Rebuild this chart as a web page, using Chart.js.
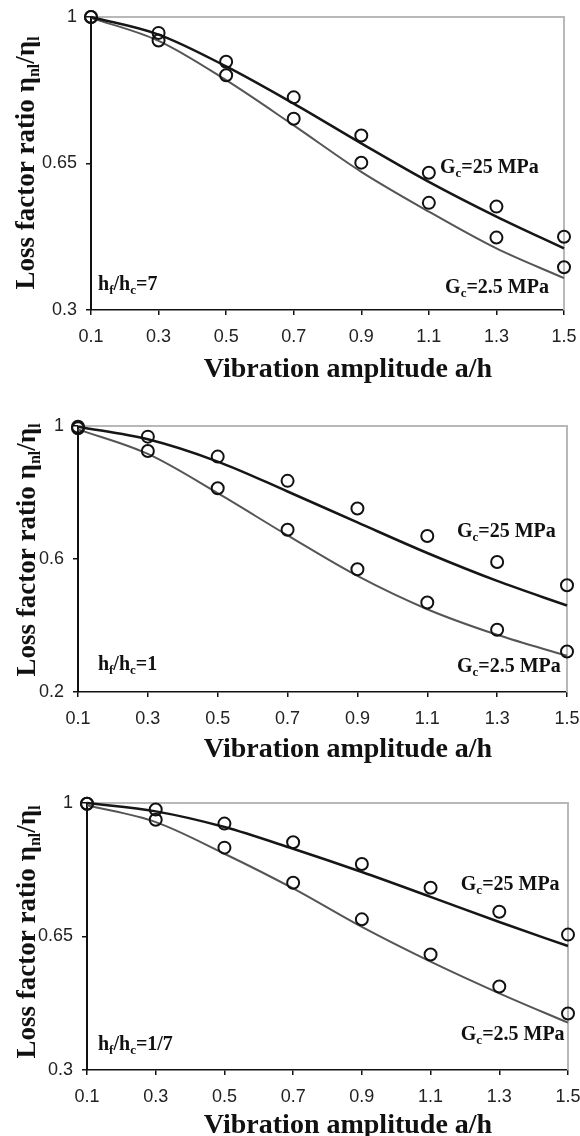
<!DOCTYPE html>
<html>
<head>
<meta charset="utf-8">
<script src="https://cdn.jsdelivr.net/npm/chart.js@4.4.1/dist/chart.umd.min.js"></script>
<style>
  html, body { margin: 0; padding: 0; background: #fff; overflow: hidden; }
  body { width: 580px; height: 1136px; position: relative; }
  canvas { position: absolute; left: 0; }
</style>
</head>
<body>
<canvas id="p1" width="580" height="388" style="top:0"></canvas>
<canvas id="p2" width="580" height="388" style="top:380px"></canvas>
<canvas id="p3" width="580" height="384" style="top:760px"></canvas>
<script>
// vibration amplitude a/h, shared by all panels
var amplitude = [0.1, 0.3, 0.5, 0.7, 0.9, 1.1, 1.3, 1.5];
var xTicks = [0.1, 0.3, 0.5, 0.7, 0.9, 1.1, 1.3, 1.5];

// hf/hc = 7
var hf7Test25  = [1.0, 0.962, 0.893, 0.808, 0.717, 0.628, 0.547, 0.475];
var hf7Test2_5 = [1.0, 0.944, 0.861, 0.757, 0.652, 0.556, 0.473, 0.402];
var hf7Fit25   = [1.0, 0.958, 0.882, 0.793, 0.698, 0.606, 0.523, 0.447];
var hf7Fit2_5  = [0.998, 0.943, 0.849, 0.741, 0.630, 0.535, 0.447, 0.376];
var hf7YTicks  = [0.3, 0.65, 1];

// hf/hc = 1
var hf1Test25  = [0.998, 0.968, 0.908, 0.835, 0.752, 0.669, 0.591, 0.521];
var hf1Test2_5 = [0.993, 0.925, 0.813, 0.688, 0.569, 0.469, 0.387, 0.322];
var hf1Fit25   = [0.998, 0.960, 0.893, 0.803, 0.710, 0.618, 0.534, 0.460];
var hf1Fit2_5  = [0.990, 0.916, 0.798, 0.671, 0.549, 0.449, 0.372, 0.309];
var hf1YTicks  = [0.2, 0.6, 1];

// hf/hc = 1/7
var hf17Test25  = [0.998, 0.983, 0.946, 0.897, 0.840, 0.778, 0.715, 0.655];
var hf17Test2_5 = [0.998, 0.956, 0.883, 0.791, 0.695, 0.603, 0.519, 0.448];
var hf17Fit25   = [1.0, 0.978, 0.937, 0.880, 0.819, 0.754, 0.688, 0.625];
var hf17Fit2_5  = [0.994, 0.950, 0.867, 0.776, 0.675, 0.584, 0.501, 0.424];
var hf17YTicks  = [0.3, 0.65, 1];

var X_TITLE = 'Vibration amplitude a/h';
var SERIF = '"Liberation Serif", "Times New Roman", serif';
var SANS = '"Liberation Sans", Arial, sans-serif';

function pairs(xs, ys) {
  return xs.map(function (x, i) { return { x: x, y: ys[i] }; });
}

// draws text runs, [text, isSubscript], starting at x on baseline y
function richText(ctx, parts, x, y, size, subSize, drop, centered) {
  var main = 'bold ' + size + 'px ' + SERIF, sub = 'bold ' + subSize + 'px ' + SERIF;
  var w = 0;
  parts.forEach(function (p) { ctx.font = p[1] ? sub : main; w += ctx.measureText(p[0]).width; });
  var cx = centered ? x - w / 2 : x;
  ctx.textBaseline = 'alphabetic';
  ctx.textAlign = 'left';
  parts.forEach(function (p) {
    ctx.font = p[1] ? sub : main;
    ctx.fillText(p[0], cx, p[1] ? y + drop : y);
    cx += ctx.measureText(p[0]).width;
  });
}

var panelText = {
  id: 'panelText',
  beforeDatasetsDraw: function (chart) {
    // light frame on the top and right sides of the plot
    var ctx = chart.ctx, a = chart.chartArea;
    ctx.save();
    ctx.strokeStyle = '#b8b8b8';
    ctx.lineWidth = 2;
    ctx.beginPath();
    ctx.moveTo(a.left, a.top);
    ctx.lineTo(a.right, a.top);
    ctx.lineTo(a.right, a.bottom);
    ctx.stroke();
    ctx.restore();
  },
  afterDraw: function (chart, args, opts) {
    var ctx = chart.ctx, xs = chart.scales.x, ys = chart.scales.y;
    ctx.save();
    ctx.fillStyle = '#111';
    (opts.notes || []).forEach(function (n) {
      richText(ctx, n.parts, xs.getPixelForValue(n.x), ys.getPixelForValue(n.y), 20, 13, 4, false);
    });
    // x title sits a little right of the axis centre in the original
    ctx.font = 'bold 28px ' + SERIF;
    ctx.textAlign = 'center';
    ctx.textBaseline = 'middle';
    ctx.fillText(X_TITLE, opts.xTitleX, xs.bottom - 18);
    ctx.translate(opts.titleX, opts.titleY);
    ctx.rotate(-Math.PI / 2);
    richText(ctx, [['Loss factor ratio \u03b7', 0], ['nl', 1], ['/\u03b7', 0], ['l', 1]], 0, 0, 27, 16, 5, true);
    ctx.restore();
  }
};

function gcNotes(x25, y25, x2, y2, xh, yh, ratio) {
  return [
    { x: x25, y: y25, parts: [['G', 0], ['c', 1], ['=25 MPa', 0]] },
    { x: x2, y: y2, parts: [['G', 0], ['c', 1], ['=2.5 MPa', 0]] },
    { x: xh, y: yh, parts: [['h', 0], ['f', 1], ['/h', 0], ['c', 1], ['=' + ratio, 0]] }
  ];
}

function makePanel(id, d) {
  var axisTick = { display: true, drawOnChartArea: false, drawTicks: true, color: '#111', lineWidth: 1.5, tickLength: 5 };
  new Chart(document.getElementById(id), {
    type: 'scatter',
    data: {
      datasets: [
        { data: pairs(amplitude, d.test25), showLine: false, pointStyle: 'circle', pointRadius: 6,
          pointBorderWidth: 2, pointBorderColor: '#111', pointBackgroundColor: 'rgba(0,0,0,0)', clip: false },
        { data: pairs(amplitude, d.test2_5), showLine: false, pointStyle: 'circle', pointRadius: 6,
          pointBorderWidth: 2, pointBorderColor: '#111', pointBackgroundColor: 'rgba(0,0,0,0)', clip: false },
        { data: pairs(amplitude, d.fit25), showLine: true, borderColor: '#161616', borderWidth: 2.5,
          pointRadius: 0, cubicInterpolationMode: 'monotone', clip: false },
        { data: pairs(amplitude, d.fit2_5), showLine: true, borderColor: '#555', borderWidth: 2,
          pointRadius: 0, cubicInterpolationMode: 'monotone', clip: false }
      ]
    },
    options: {
      responsive: false,
      animation: false,
      events: [],
      layout: { padding: { top: d.top, right: d.right, bottom: 0, left: 0 } },
      plugins: {
        legend: { display: false },
        tooltip: { enabled: false },
        panelText: { notes: d.notes, titleX: d.titleX, titleY: d.titleY, xTitleX: 348 }
      },
      scales: {
        x: {
          type: 'linear', min: 0.1, max: 1.5,
          afterBuildTicks: function (s) { s.ticks = xTicks.map(function (v) { return { value: v }; }); },
          afterFit: function (s) { s.height = d.xAxisH; s.paddingLeft = 0; s.paddingRight = 0; },
          border: { color: '#111', width: 1.5 },
          grid: axisTick,
          ticks: { color: '#222', font: { family: SANS, size: 18 }, padding: 11, maxRotation: 0,
                   callback: function (v) { return v.toFixed(1); } }
        },
        y: {
          type: 'linear', min: d.yTicks[0], max: d.yTicks[d.yTicks.length - 1],
          afterBuildTicks: function (s) { s.ticks = d.yTicks.map(function (v) { return { value: v }; }); },
          afterFit: function (s) { s.width = d.left; s.paddingTop = 0; s.paddingBottom = 0; },
          border: { color: '#111', width: 2 },
          grid: axisTick,
          ticks: { color: '#222', font: { family: SANS, size: 18 }, padding: 9,
                   callback: function (v) { return String(v); } }
        }
      }
    },
    plugins: [panelText]
  });
}

makePanel('p1', {
  test25: hf7Test25, test2_5: hf7Test2_5, fit25: hf7Fit25, fit2_5: hf7Fit2_5, yTicks: hf7YTicks,
  top: 17, right: 16, left: 91, xAxisH: 78, titleX: 34, titleY: 163,
  notes: gcNotes(1.133, 0.627, 1.148, 0.34, 0.121, 0.348, '7')
});
makePanel('p2', {
  test25: hf1Test25, test2_5: hf1Test2_5, fit25: hf1Fit25, fit2_5: hf1Fit2_5, yTicks: hf1YTicks,
  top: 46, right: 13, left: 78, xAxisH: 76, titleX: 35, titleY: 170,
  notes: gcNotes(1.185, 0.666, 1.185, 0.26, 0.157, 0.266, '1')
});
makePanel('p3', {
  test25: hf17Test25, test2_5: hf17Test2_5, fit25: hf17Fit25, fit2_5: hf17Fit2_5, yTicks: hf17YTicks,
  top: 43, right: 12, left: 87, xAxisH: 74, titleX: 35, titleY: 172,
  notes: gcNotes(1.188, 0.772, 1.188, 0.379, 0.132, 0.352, '1/7')
});
</script>
</body>
</html>
